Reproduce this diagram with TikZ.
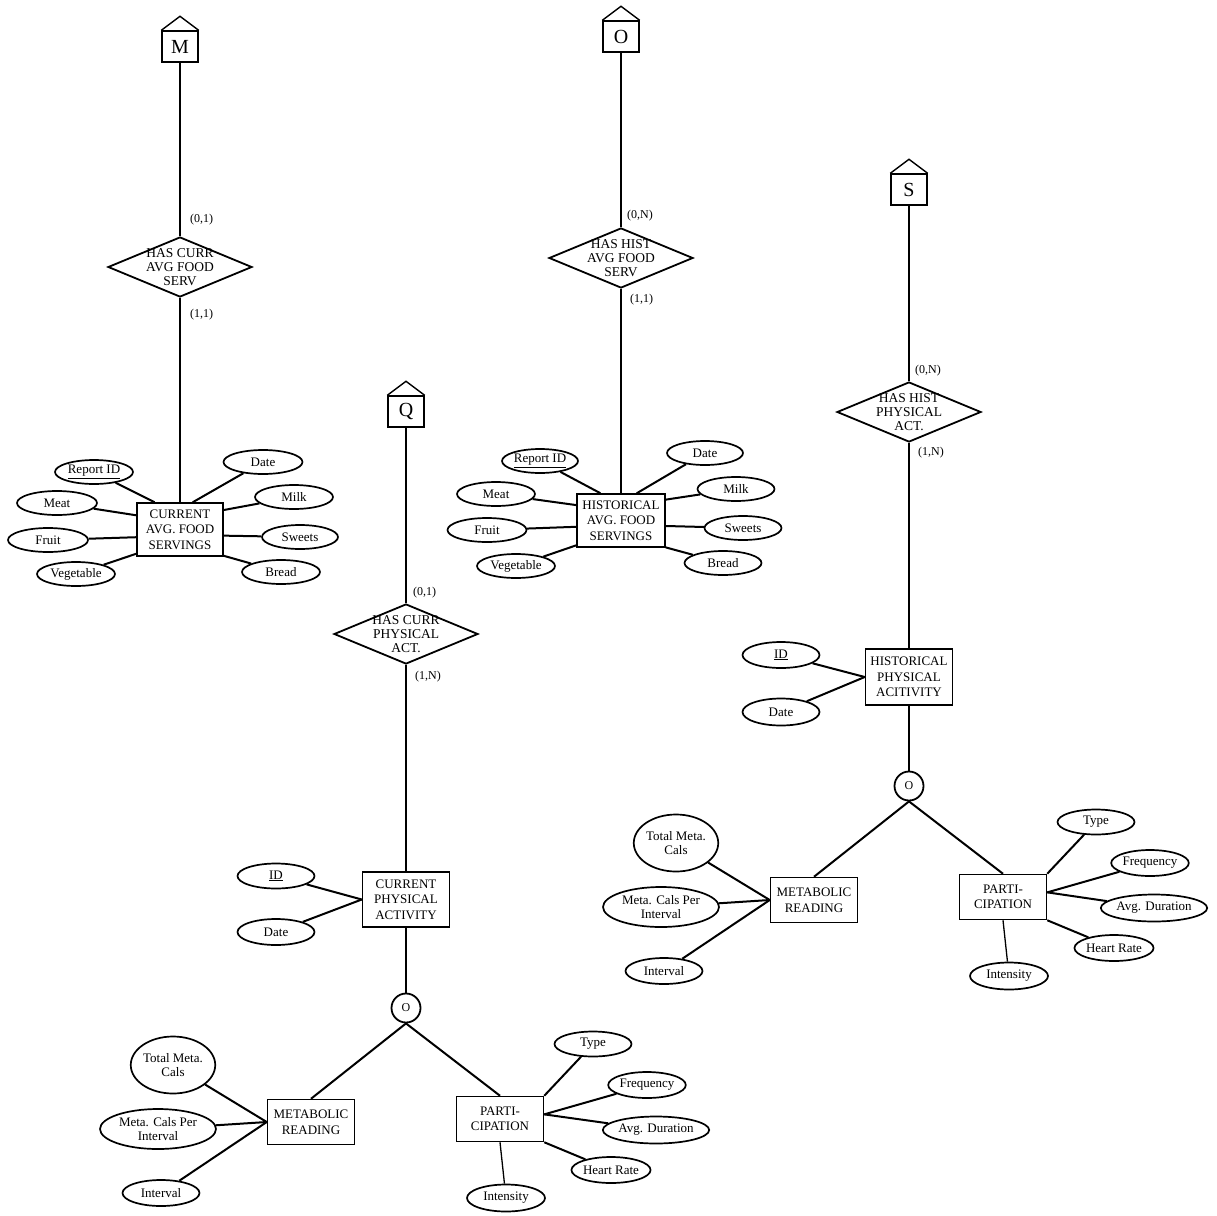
\documentclass[tikz,border=0pt]{standalone}
\usepackage{fontspec}
\setmainfont{Liberation Serif}
\usetikzlibrary{shapes.geometric}
\tikzset{
 ent/.style={draw, line width=1.5pt, minimum width=87pt, minimum height=53pt, inner sep=1pt, align=center, font=\fontsize{13}{15.5}\selectfont},
 attr/.style={draw, ellipse, line width=1.7pt, minimum width=78pt, minimum height=24pt, inner sep=0pt, align=center, font=\fontsize{13}{14}\selectfont},
 rel/.style={draw, diamond, line width=1.8pt, minimum width=144pt, minimum height=60pt, inner sep=0pt},
 reltext/.style={align=center, font=\fontsize{13.5}{14}\selectfont, inner sep=0pt},
 card/.style={anchor=west, inner sep=0pt, font=\fontsize{12}{12}\selectfont},
 house/.style={draw, line width=1.4pt, minimum width=36pt, minimum height=31pt, inner sep=0pt, font=\fontsize{20}{20}\selectfont},
 roof/.style={line width=1.4pt, line join=miter},
 disj/.style={draw, circle, line width=1.8pt, minimum size=29pt, inner sep=0pt, font=\fontsize{12}{12}\selectfont},
 link/.style={line width=1.3pt},
 alink/.style={line width=2pt},
}
\begin{document}
\begin{tikzpicture}[x=1pt,y=-1pt]
\useasboundingbox (0,0) rectangle (1217,1215);
\fill[white] (0,0) rectangle (1217,1215);

% ---------- Column A: current food servings ----------
\node[house] (hM) at (180,46.5) {M};
\draw[roof] (hM.north west) -- ([yshift=14pt]hM.north) -- (hM.north east);
\node[rel] (r1) at (180,267) {};
\node[reltext] (r1t) at (r1) {HAS CURR\\AVG FOOD\\SERV};
\node[card] (k1a) at (190,220) {(0,1)};
\node[card] (k1b) at (190,315) {(1,1)};
\node[ent, minimum width=86pt] (cafs) at (180,529.5) {CURRENT\\AVG. FOOD\\SERVINGS};
\node[attr] (arid) at (94,472) {\underline{Report ID}};
\node[attr, minimum width=80pt] (ameat) at (57,503) {Meat};
\node[attr, minimum width=80pt] (afruit) at (48,540) {Fruit};
\node[attr] (aveg) at (76,574) {Vegetable};
\node[attr, minimum width=79pt] (adate) at (263,462) {Date};
\node[attr] (amilk) at (294,497) {Milk};
\node[attr, minimum width=76pt] (asweets) at (300,537) {Sweets};
\node[attr] (abread) at (281,572) {Bread};
\draw[link] (hM) -- (r1);
\draw[link] (r1) -- (cafs);
\draw[alink] (arid) -- (cafs.133);
\draw[alink] (ameat) -- (cafs.162);
\draw[alink] (afruit) -- (cafs.190);
\draw[alink] (aveg) -- (cafs.209);
\draw[alink] (adate) -- (cafs.65);
\draw[alink] (amilk) -- (cafs.24);
\draw[alink] (asweets) -- (cafs.352);
\draw[alink] (abread) -- (cafs.329);

% ---------- Column B: historical food servings ----------
\node[house] (hO) at (621,36.5) {O};
\draw[roof] (hO.north west) -- ([yshift=14pt]hO.north) -- (hO.north east);
\node[rel] (r2) at (621,258) {};
\node[reltext] (r2t) at (r2) {HAS HIST\\AVG FOOD\\SERV};
\node[card] (k2a) at (627,216) {(0,N)};
\node[card] (k2b) at (630,300) {(1,1)};
\node[ent, minimum width=88pt] (hafs) at (621,520.5) {HISTORICAL\\AVG. FOOD\\SERVINGS};
\node[attr, minimum width=76pt] (brid) at (540,461) {\underline{Report ID}};
\node[attr] (bmeat) at (496,494) {Meat};
\node[attr, minimum width=79pt] (bfruit) at (487,530) {Fruit};
\node[attr] (bveg) at (516,566) {Vegetable};
\node[attr, minimum width=76pt] (bdate) at (705,453) {Date};
\node[attr, minimum width=77pt] (bmilk) at (736,489) {Milk};
\node[attr, minimum width=77pt] (bsweets) at (743,528) {Sweets};
\node[attr, minimum width=77pt] (bbread) at (723,563) {Bread};
\draw[link] (hO) -- (r2);
\draw[link] (r2) -- (hafs);
\draw[alink] (brid) -- (hafs.127);
\draw[alink] (bmeat) -- (hafs.161);
\draw[alink] (bfruit) -- (hafs.188);
\draw[alink] (bveg) -- (hafs.209);
\draw[alink] (bdate) -- (hafs.60);
\draw[alink] (bmilk) -- (hafs.25);
\draw[alink] (bsweets) -- (hafs.353);
\draw[alink] (bbread) -- (hafs.329);

% ---------- Column C: current physical activity ----------
\node[house] (hQ) at (406,411.5) {Q};
\draw[roof] (hQ.north west) -- ([yshift=14pt]hQ.north) -- (hQ.north east);
\node[rel] (r3) at (406,634) {};
\node[reltext] (r3t) at (r3) {HAS CURR\\PHYSICAL\\ACT.};
\node[card] (k3a) at (413,593) {(0,1)};
\node[card] (k3b) at (415,677) {(1,N)};
\node[ent, minimum height=55pt] (cpa) at (406,899.5) {CURRENT\\PHYSICAL\\ACTIVITY};
\node[attr, minimum width=77pt, minimum height=25pt] (cid) at (276,876) {\underline{ID}};
\node[attr, minimum width=77pt, minimum height=26pt] (cdate) at (276,932) {Date};
\node[disj] (c1) at (406,1008) {O};
\draw[link] (hQ) -- (r3);
\draw[link] (r3) -- (cpa);
\draw[link] (cpa) -- (c1);
\draw[alink] (cid) -- (cpa.west);
\draw[alink] (cdate) -- (cpa.west);

\node[ent, minimum height=45pt] (mr1) at (311,1122) {METABOLIC\\READING};
\node[ent, minimum height=45pt] (pa1) at (500,1119) {PARTI-\\CIPATION};
\node[attr, minimum width=79pt, minimum height=57pt] (etmc) at (173,1065) {Total Meta.\\Cals};
\node[attr, minimum width=116pt, minimum height=40pt] (emcpi) at (158,1129) {Meta. Cals Per\\Interval};
\node[attr, minimum width=77pt, minimum height=26pt] (eint) at (161,1193) {Interval};
\node[attr, minimum width=77pt, minimum height=25pt] (etype) at (593,1044) {Type};
\node[attr, minimum width=77pt, minimum height=26pt] (efreq) at (647,1085) {Frequency};
\node[attr, minimum width=96pt, minimum height=27pt] (eavg) at (656,1130) {Avg. Duration};
\node[attr, minimum width=74pt, minimum height=26pt] (ehr) at (611,1170) {Heart Rate};
\node[attr, minimum width=78pt, minimum height=27pt] (eints) at (506,1198) {Intensity};
\draw[alink] (c1.south) -- (mr1.north);
\draw[alink] (c1.south) -- (pa1.north);
\draw[alink] (etmc) -- (mr1.west);
\draw[alink] (emcpi) -- (mr1.west);
\draw[alink] (eint) -- (mr1.west);
\draw[alink] (etype) -- (pa1.north east);
\draw[alink] (efreq) -- (pa1.6);
\draw[alink] (eavg) -- (pa1.6);
\draw[alink] (ehr) -- (pa1.south east);
\draw[link] (eints) -- (pa1.south);

% ---------- Column D: historical physical activity ----------
\node[house] (hS) at (909,189.5) {S};
\draw[roof] (hS.north west) -- ([yshift=14pt]hS.north) -- (hS.north east);
\node[rel] (r4) at (909,412) {};
\node[reltext] (r4t) at (r4) {HAS HIST\\PHYSICAL\\ACT.};
\node[card] (k4a) at (915,371) {(0,N)};
\node[card] (k4b) at (918,453) {(1,N)};
\node[ent, minimum height=56pt] (hpa) at (909,677) {HISTORICAL\\PHYSICAL\\ACITIVITY};
\node[attr, minimum width=77pt, minimum height=26pt] (did) at (781,655) {\underline{ID}};
\node[attr, minimum width=77pt, minimum height=27pt] (ddate) at (781,712) {Date};
\node[disj] (c2) at (909,786) {O};
\draw[link] (hS) -- (r4);
\draw[link] (r4) -- (hpa);
\draw[link] (hpa) -- (c2);
\draw[alink] (did) -- (hpa.west);
\draw[alink] (ddate) -- (hpa.west);

\node[ent, minimum height=45pt] (mr2) at (814,900) {METABOLIC\\READING};
\node[ent, minimum height=45pt] (pa2) at (1003,897) {PARTI-\\CIPATION};
\node[attr, minimum width=79pt, minimum height=57pt] (ftmc) at (676,843) {Total Meta.\\Cals};
\node[attr, minimum width=116pt, minimum height=40pt] (fmcpi) at (661,907) {Meta. Cals Per\\Interval};
\node[attr, minimum width=77pt, minimum height=26pt] (fint) at (664,971) {Interval};
\node[attr, minimum width=77pt, minimum height=25pt] (ftype) at (1096,822) {Type};
\node[attr, minimum width=77pt, minimum height=26pt] (ffreq) at (1150,863) {Frequency};
\node[attr, minimum width=96pt, minimum height=27pt] (favg) at (1154,908) {Avg. Duration};
\node[attr, minimum width=74pt, minimum height=26pt] (fhr) at (1114,948) {Heart Rate};
\node[attr, minimum width=78pt, minimum height=27pt] (fints) at (1009,976) {Intensity};
\draw[alink] (c2.south) -- (mr2.north);
\draw[alink] (c2.south) -- (pa2.north);
\draw[alink] (ftmc) -- (mr2.west);
\draw[alink] (fmcpi) -- (mr2.west);
\draw[alink] (fint) -- (mr2.west);
\draw[alink] (ftype) -- (pa2.north east);
\draw[alink] (ffreq) -- (pa2.6);
\draw[alink] (favg) -- (pa2.6);
\draw[alink] (fhr) -- (pa2.south east);
\draw[link] (fints) -- (pa2.south);
\end{tikzpicture}
\end{document}
